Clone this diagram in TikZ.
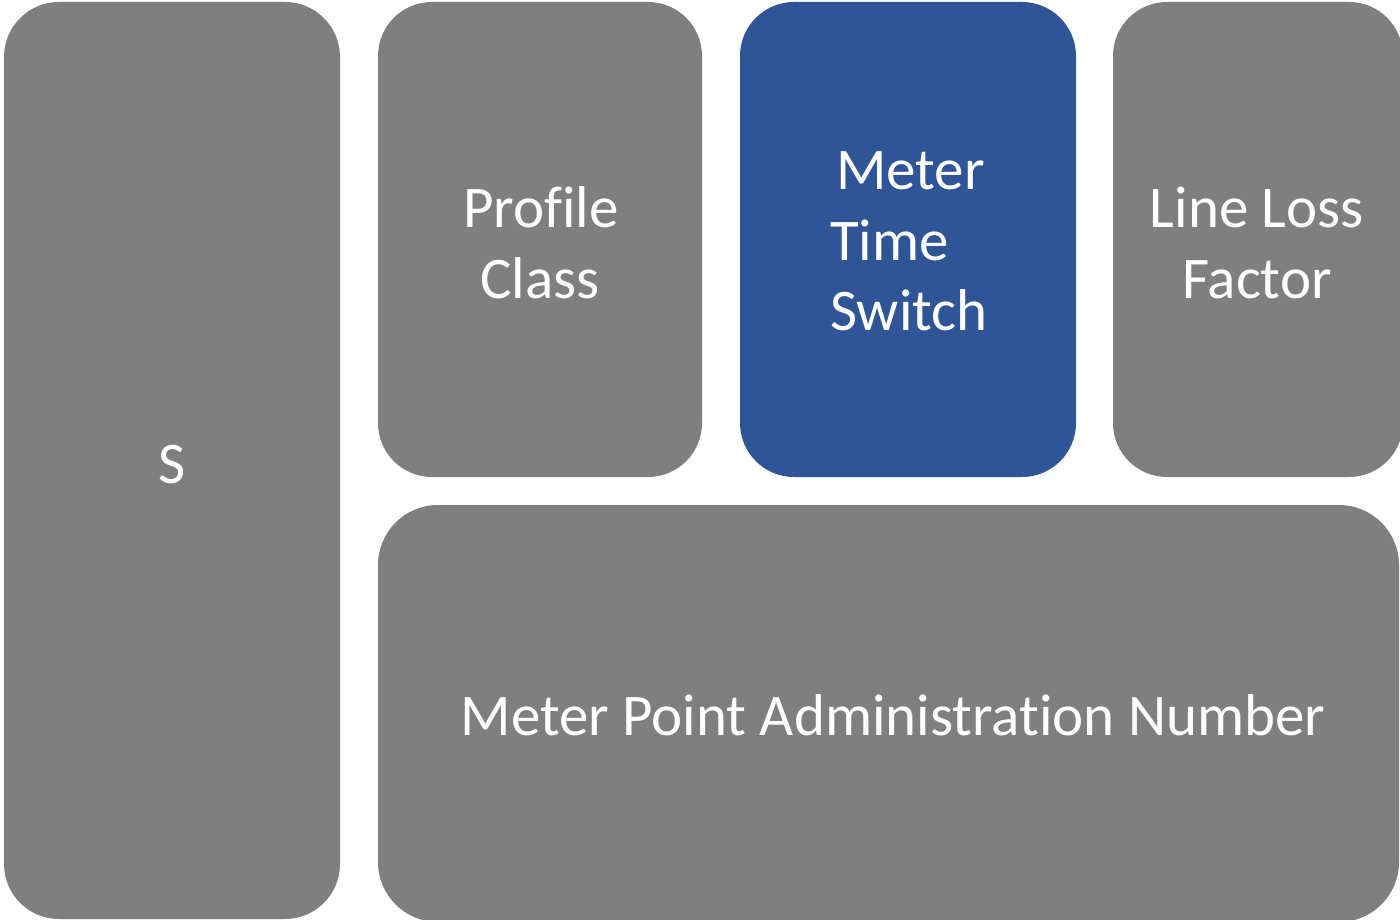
\documentclass[tikz,border=0pt]{standalone}
\usepackage{fontspec}
\setmainfont{Carlito}[Ligatures={NoCommon}]
\definecolor{boxgray}{HTML}{7F7F7F}
\definecolor{boxblue}{HTML}{2F5597}
\tikzset{
  tile/.style={fill=boxgray, draw=none, inner sep=0pt},
  bluetile/.style={fill=boxblue, draw=none, inner sep=0pt},
  lbl/.style={text=white, font=\fontsize{59}{70}\selectfont, inner sep=0pt, anchor=base},
}
\begin{document}
\begin{tikzpicture}[x=1pt,y=-1pt]
\useasboundingbox (0,0) rectangle (1400,920);
\clip (0,0) rectangle (1400,920);
\node[tile, rounded corners=55pt, minimum width=336pt, minimum height=917pt] (s) at (172,460.5) {};
\node[tile, rounded corners=54pt, minimum width=324pt, minimum height=475pt] (pc) at (540,239.5) {};
\node[bluetile, rounded corners=54pt, minimum width=336pt, minimum height=475pt] (mts) at (908,239.5) {};
\node[tile, rounded corners=54pt, minimum width=290pt, minimum height=475pt] (llf) at (1258,239.5) {};
\node[tile, rounded corners=60pt, minimum width=1021pt, minimum height=417pt] (mpan) at (888.5,713.5) {};
% labels
\node[lbl] (stxt) at (172,483) {S};
\node[lbl] (pc1) at (541,228) {Profile};
\node[lbl] (pc2) at (540,298) {Class};
\node[lbl, anchor=base west] (m1) at (836,190) {Meter};
\node[lbl, anchor=base west] (m2) at (830,260) {Time};
\node[lbl, anchor=base west] (m3) at (830,330) {Switch};
\node[lbl] (l1) at (1257,228) {Line Loss};
\node[lbl] (l2) at (1257,298) {Factor};
\node[lbl] (mp) at (893,735) {Meter Point Administration Number};
\end{tikzpicture}
\end{document}
